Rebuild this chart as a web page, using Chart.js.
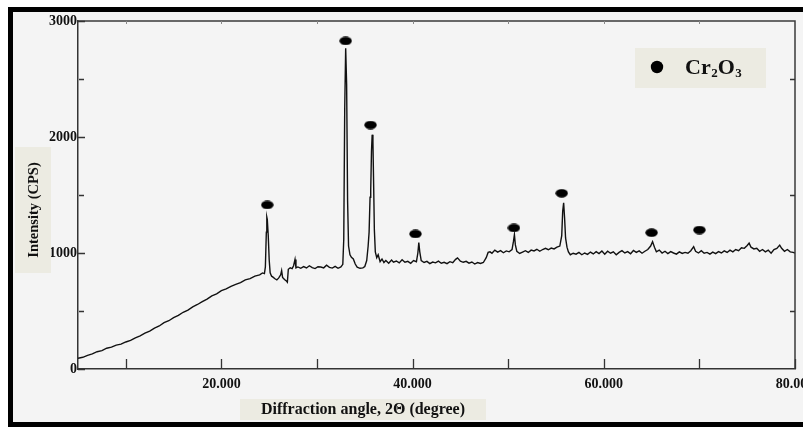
<!DOCTYPE html>
<html>
<head>
<meta charset="utf-8">
<script src="https://cdn.jsdelivr.net/npm/chart.js@4.4.1/dist/chart.umd.min.js"></script>
<style>
  html, body { margin: 0; padding: 0; background: #fff; }
  canvas { display: block; }
</style>
</head>
<body>
<canvas id="xrdChart" width="803" height="427"></canvas>
<script>
// XRD pattern, values
const twoTheta = [
    5.0, 5.5, 6.0, 6.5, 7.0, 7.5, 8.0, 8.5, 9.0, 9.5,
    10.0, 10.5, 11.0, 11.5, 12.0, 12.5, 13.0, 13.5, 14.0, 14.5,
    15.0, 15.5, 16.0, 16.5, 17.0, 17.5, 18.0, 18.5, 19.0, 19.5,
    20.0, 20.5, 21.0, 21.5, 22.0, 22.5, 23.0, 23.5, 24.0, 24.3,
    24.5, 24.6, 24.7, 24.75, 24.8, 24.9, 25.0, 25.1, 25.25, 25.4,
    25.6, 25.8, 26.0, 26.2, 26.3, 26.4, 26.6, 26.8, 26.9, 27.0,
    27.2, 27.4, 27.55, 27.7, 27.8, 28.0, 28.3, 28.6, 28.9, 29.2,
    29.5, 29.8, 30.1, 30.4, 30.7, 31.0, 31.3, 31.6, 31.9, 32.2,
    32.5, 32.7, 32.8, 32.9, 33.0, 33.1, 33.2, 33.3, 33.45, 33.6,
    33.8, 34.0, 34.2, 34.5, 34.8, 35.0, 35.2, 35.35, 35.45, 35.55,
    35.62, 35.7, 35.77, 35.85, 35.93, 36.0, 36.1, 36.25, 36.4, 36.6,
    36.8, 37.0, 37.2, 37.5, 37.8, 38.0, 38.3, 38.6, 38.9, 39.2,
    39.5, 39.8, 40.1, 40.4, 40.55, 40.65, 40.75, 40.9, 41.2, 41.5,
    41.8, 42.1, 42.4, 42.7, 43.0, 43.3, 43.6, 43.9, 44.2, 44.5,
    44.7, 45.0, 45.3, 45.6, 45.9, 46.2, 46.5, 46.8, 47.1, 47.4,
    47.7, 47.9, 48.1, 48.3, 48.6, 48.9, 49.2, 49.5, 49.8, 50.1,
    50.4, 50.55, 50.65, 50.75, 50.9, 51.2, 51.5, 51.8, 52.1, 52.4,
    52.7, 53.0, 53.3, 53.6, 53.9, 54.2, 54.5, 54.8, 55.1, 55.4,
    55.6, 55.7, 55.8, 55.9, 56.0, 56.15, 56.3, 56.5, 56.8, 57.1,
    57.4, 57.7, 58.0, 58.3, 58.6, 58.9, 59.2, 59.5, 59.8, 60.1,
    60.4, 60.7, 61.0, 61.3, 61.6, 61.9, 62.2, 62.5, 62.8, 63.1,
    63.4, 63.7, 64.0, 64.3, 64.6, 64.9, 65.1, 65.3, 65.5, 65.8,
    66.1, 66.4, 66.7, 67.0, 67.3, 67.6, 67.9, 68.2, 68.5, 68.8,
    69.1, 69.4, 69.6, 69.9, 70.2, 70.5, 70.8, 71.1, 71.4, 71.7,
    72.0, 72.3, 72.6, 72.9, 73.2, 73.5, 73.8, 74.1, 74.4, 74.7,
    75.0, 75.2, 75.4, 75.7, 76.0, 76.3, 76.6, 76.9, 77.2, 77.5,
    77.8, 78.1, 78.4, 78.6, 78.9, 79.2, 79.5, 79.8, 80.0
];
const counts = [
    92, 101, 118, 130, 149, 158, 179, 188, 206, 214,
    233, 246, 269, 286, 309, 327, 353, 371, 399, 416,
    443, 462, 489, 508, 536, 556, 581, 603, 631, 648,
    676, 690, 713, 729, 745, 768, 779, 801, 812, 828,
    822, 880, 1180, 1310, 1290, 1150, 940, 830, 800, 792,
    778, 768, 785, 812, 848, 790, 772, 758, 748, 860,
    873, 866, 890, 945, 872, 880, 868, 883, 871, 890,
    874, 866, 882, 879, 872, 895, 876, 870, 885, 868,
    880, 902, 1120, 2250, 2765, 2450, 1450, 1060, 985, 962,
    948, 905, 878, 868, 872, 884, 935, 1060, 1180, 1480,
    1545, 1880, 2020, 1960, 1560, 1200, 1010, 960, 985, 925,
    948, 918, 935, 912, 940, 921, 931, 915, 942, 920,
    928, 911, 935, 925, 1000, 1090, 1010, 935, 918, 928,
    909, 922, 915, 930, 912, 920, 908, 925, 917, 945,
    958, 930, 920, 928, 912, 922, 905, 918, 910, 918,
    960, 1005, 1010, 998, 1025, 1008, 1020, 1002, 1018, 1010,
    1030, 1100, 1158, 1070, 1015, 996, 1008, 1020, 1005, 1025,
    1018, 1032, 1015, 1030, 1040, 1028, 1042, 1035, 1050, 1060,
    1150, 1360, 1432, 1300, 1130, 1050, 1010, 985, 998, 990,
    1005, 985, 1000, 988, 1008, 992, 1012, 995, 1018, 990,
    1015, 998, 1010, 985, 1005, 1020, 1000, 1012, 994, 1022,
    1005, 1018, 998, 1015, 1030, 1060, 1098, 1050, 1010, 1025,
    1000, 1015, 995, 1012, 1000, 990, 1010, 996, 1005, 998,
    1020, 1055, 1015, 1000, 1020, 998, 1005, 990, 1008, 995,
    1012, 1000, 1018, 1005, 1025, 1010, 1030, 1020, 1045, 1040,
    1065, 1085, 1050, 1035, 1040, 1015, 1030, 1010, 1025, 998,
    1030, 1040, 1068, 1040, 1015, 1030, 1010, 1005, 1000
];

// Cr2O3 markers over the peaks
const markAngles = [24.8, 33.0, 35.6, 40.3, 50.6, 55.6, 65.0, 70.0];
const markCounts = [1414, 2828, 2103, 1164, 1216, 1515, 1175, 1198];

const xTickValues = [10, 20, 30, 40, 50, 60, 70, 80];
const xTickLabels = { 20: '20.000', 40: '40.000', 60: '60.000', 80: '80.000' };
const yTickValues = [0, 1000, 2000, 3000];
const yMinorValues = [500, 1500, 2500];

const xTitle = 'Diffraction angle, 2\u0398 (degree)';
const yTitle = 'Intensity (CPS)';
const legendParts = ['Cr', '2', 'O', '3'];

const serif = '"Liberation Serif", "DejaVu Serif", serif';
const beige = '#ecebe2';

// flattened black dot used as point style
function makeDot(w, h) {
    const c = document.createElement('canvas');
    c.width = w; c.height = h;
    const g = c.getContext('2d');
    g.fillStyle = '#000';
    g.beginPath();
    g.ellipse(w / 2, h / 2, w / 2 - 0.3, h / 2 - 0.3, 0, 0, Math.PI * 2);
    g.fill();
    return c;
}
const dot = makeDot(13, 9);

const decor = {
    id: 'decor',
    beforeDraw(chart) {
        const c = chart.ctx;
        c.save();
        c.fillStyle = '#ffffff';
        c.fillRect(0, 0, chart.width, chart.height);
        c.fillStyle = '#f4f4f4';
        c.fillRect(8, 7, chart.width, 420);
        // thick outer frame
        c.strokeStyle = '#000';
        c.lineWidth = 5;
        c.strokeRect(10.5, 9.5, chart.width + 10, 415);
        c.restore();
    },
    afterDraw(chart) {
        const c = chart.ctx;
        const a = chart.chartArea;
        const xs = chart.scales.x, ys = chart.scales.y;
        c.save();
        // top and right frame lines
        c.strokeStyle = '#3a3a3a';
        c.lineWidth = 1.5;
        c.beginPath();
        c.moveTo(a.left, a.top);
        c.lineTo(a.right, a.top);
        c.lineTo(a.right, a.bottom);
        c.stroke();

        // inward ticks
        c.strokeStyle = '#333';
        c.lineWidth = 1.3;
        c.beginPath();
        xTickValues.forEach(v => {
            const px = Math.round(xs.getPixelForValue(v)) + 0.5;
            c.moveTo(px, a.bottom);
            c.lineTo(px, a.bottom - 10);
        });
        yTickValues.forEach(v => {
            const py = Math.round(ys.getPixelForValue(v)) + 0.5;
            c.moveTo(a.left, py);
            c.lineTo(a.left + 7, py);
        });
        yMinorValues.forEach(v => {
            const py = Math.round(ys.getPixelForValue(v)) + 0.5;
            c.moveTo(a.left + 1, py);
            c.lineTo(a.left + 6, py);
            c.moveTo(a.right, py);
            c.lineTo(a.right - 5, py);
        });
        c.stroke();
        // faint ticks along the top edge
        c.strokeStyle = '#888';
        c.lineWidth = 1;
        c.beginPath();
        xTickValues.slice(0, -1).forEach(v => {
            const px = Math.round(xs.getPixelForValue(v)) + 0.5;
            c.moveTo(px, a.top);
            c.lineTo(px, a.top + 3);
        });
        c.stroke();

        // y axis title box
        c.fillStyle = beige;
        c.fillRect(15, 147, 36, 126);
        c.save();
        c.translate(34, 210);
        c.rotate(-Math.PI / 2);
        c.fillStyle = '#111';
        c.font = 'bold 14.5px ' + serif;
        c.textAlign = 'center';
        c.textBaseline = 'middle';
        c.fillText(yTitle, 0, 0);
        c.restore();

        // x axis title box
        c.fillStyle = beige;
        c.fillRect(240, 399, 246, 21);
        c.fillStyle = '#111';
        c.font = 'bold 16px ' + serif;
        c.textAlign = 'center';
        c.textBaseline = 'middle';
        c.fillText(xTitle, 363, 410);

        // legend box
        c.fillStyle = beige;
        c.fillRect(635, 48, 131, 40);
        c.fillStyle = '#000';
        c.beginPath();
        c.arc(657, 67, 6.2, 0, Math.PI * 2);
        c.fill();
        c.fillStyle = '#111';
        c.textAlign = 'left';
        c.textBaseline = 'alphabetic';
        let tx = 685;
        legendParts.forEach((p, i) => {
            const sub = i % 2 === 1;
            c.font = 'bold ' + (sub ? 13 : 22) + 'px ' + serif;
            c.fillText(p, tx, sub ? 77 : 74);
            tx += c.measureText(p).width + (sub ? 0 : 0.5);
        });
        c.restore();
    }
};

const ctx = document.getElementById('xrdChart').getContext('2d');
const xrdChart = new Chart(ctx, {
    data: {
        datasets: [{
            type: 'line',
            label: 'XRD',
            data: twoTheta.map((t, i) => ({ x: t, y: counts[i] })),
            borderColor: '#111',
            borderWidth: 1.4,
            pointRadius: 0,
            tension: 0,
            fill: false
        }, {
            type: 'scatter',
            label: 'Cr2O3',
            data: markAngles.map((t, i) => ({ x: t, y: markCounts[i] })),
            pointStyle: dot,
            pointRadius: 6,
            backgroundColor: '#000',
            borderColor: '#000'
        }]
    },
    options: {
        responsive: false,
        animation: false,
        devicePixelRatio: 1,
        layout: { padding: { top: 21, right: 8, left: 0, bottom: 0 } },
        plugins: {
            legend: { display: false },
            tooltip: { enabled: false }
        },
        scales: {
            x: {
                type: 'linear',
                min: 5,
                max: 80,
                afterBuildTicks: s => { s.ticks = xTickValues.map(v => ({ value: v })); },
                afterFit: s => { s.height = 58; s.paddingLeft = 0; s.paddingRight = 0; },
                grid: { display: false, drawTicks: false },
                border: { display: true, color: '#333', width: 1.5 },
                ticks: {
                    autoSkip: false,
                    maxRotation: 0,
                    padding: 7,
                    color: '#111',
                    font: { family: serif, size: 14, weight: 'bold' },
                    callback: v => xTickLabels[v] || ''
                }
            },
            y: {
                type: 'linear',
                min: 0,
                max: 3000,
                afterBuildTicks: s => { s.ticks = yTickValues.map(v => ({ value: v })); },
                afterFit: s => { s.width = 78; s.paddingTop = 0; s.paddingBottom = 0; },
                grid: { display: false, drawTicks: false },
                border: { display: true, color: '#333', width: 1.5 },
                ticks: {
                    padding: 1,
                    color: '#111',
                    font: { family: serif, size: 14, weight: 'bold' },
                    callback: v => String(v)
                }
            }
        }
    },
    plugins: [decor]
});
</script>
</body>
</html>
